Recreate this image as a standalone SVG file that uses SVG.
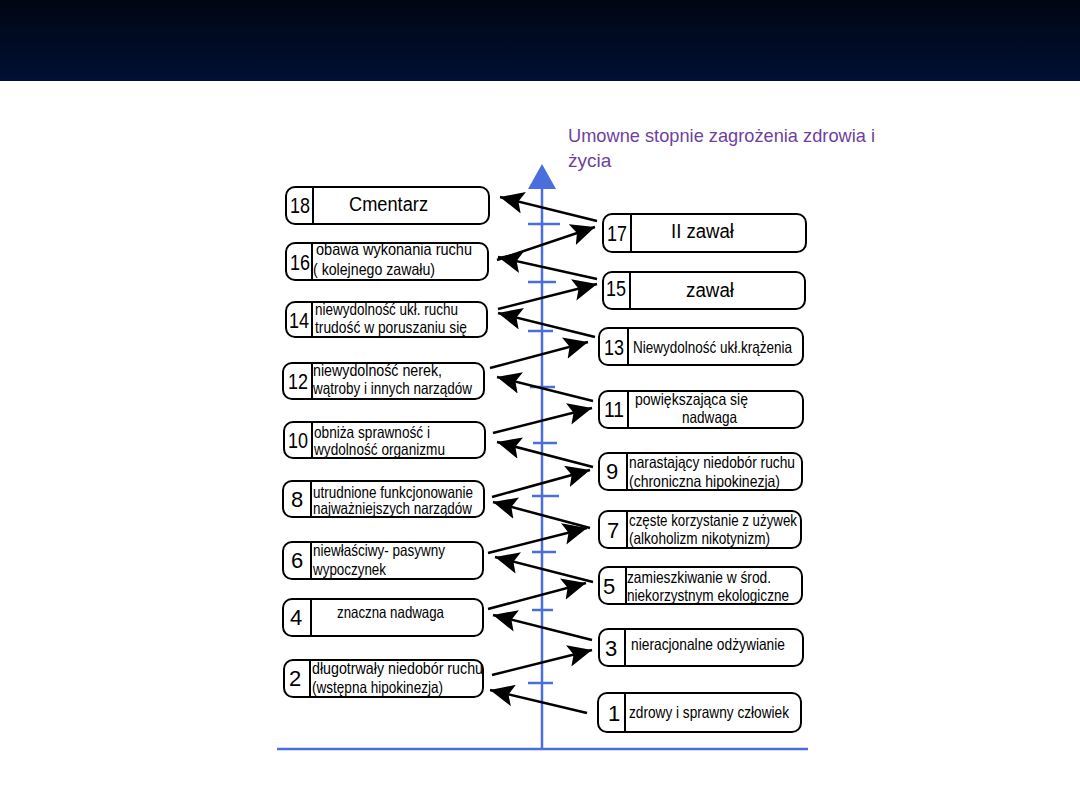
<svg xmlns="http://www.w3.org/2000/svg" width="1080" height="810" viewBox="0 0 1080 810">
<style>
.box{fill:#fff;stroke:#000;stroke-width:2}
.div{stroke:#000;stroke-width:2}
.num{font-family:"Liberation Sans",Arial,sans-serif;font-size:22px;fill:#000;text-anchor:middle}
.t{font-family:"Liberation Sans",Arial,sans-serif;font-size:16.5px;fill:#000}
.big{font-family:"Liberation Sans",Arial,sans-serif;font-size:20px;fill:#000}
.ax{stroke:#4A6FDC;stroke-width:2.5;fill:none}
.tick{stroke:#4A6FDC;stroke-width:2.5}
.ar{stroke:#000;stroke-width:2.5;fill:none;marker-end:url(#ah)}
.title{font-family:"Liberation Sans",Arial,sans-serif;font-size:19px;fill:#6E3F9E}
</style>
<defs>
<linearGradient id="hdr" x1="0" y1="0" x2="0" y2="1">
<stop offset="0" stop-color="#000612"/>
<stop offset="1" stop-color="#001034"/>
</linearGradient>
<marker id="ah" markerUnits="userSpaceOnUse" markerWidth="26" markerHeight="22" refX="24" refY="11" orient="auto">
<path d="M0,0 L24,11 L0,22 L5,11 z" fill="#000"/>
</marker>
</defs>
<rect x="0" y="0" width="1080" height="810" fill="#fff"/>
<rect x="0" y="0" width="1080" height="81" fill="url(#hdr)"/>

<g id="title">
<text class="title" x="568" y="142" textLength="307" lengthAdjust="spacingAndGlyphs">Umowne stopnie zagrożenia zdrowia i</text>
<text class="title" x="568" y="167">życia</text>
</g>

<g id="axis">
<line class="ax" x1="542" y1="185" x2="542" y2="749"/>
<path d="M542,164 L556,189 L528,189 z" fill="#4A6FDC"/>
<line class="ax" x1="277" y1="749" x2="808" y2="749"/>
<line class="tick" x1="528" y1="224" x2="560" y2="224"/>
<line class="tick" x1="528" y1="282" x2="556" y2="282"/>
<line class="tick" x1="528" y1="331" x2="553" y2="331"/>
<line class="tick" x1="530" y1="387" x2="555" y2="387"/>
<line class="tick" x1="533" y1="443" x2="557" y2="443"/>
<line class="tick" x1="532" y1="496" x2="559" y2="496"/>
<line class="tick" x1="532" y1="552" x2="556" y2="552"/>
<line class="tick" x1="532" y1="610" x2="553" y2="610"/>
<line class="tick" x1="528" y1="683" x2="553" y2="683"/>
</g>

<g id="connectors">
<line class="ar" x1="597" y1="221" x2="500" y2="197"/>
<line class="ar" x1="497" y1="260" x2="595" y2="227"/>
<line class="ar" x1="597" y1="279" x2="498" y2="257"/>
<line class="ar" x1="498" y1="309" x2="597" y2="284"/>
<line class="ar" x1="595" y1="337" x2="498" y2="313"/>
<line class="ar" x1="490" y1="368" x2="588" y2="342"/>
<line class="ar" x1="593" y1="401" x2="497" y2="377"/>
<line class="ar" x1="493" y1="433" x2="592" y2="408"/>
<line class="ar" x1="593" y1="467" x2="497" y2="442"/>
<line class="ar" x1="492" y1="497" x2="590" y2="470"/>
<line class="ar" x1="590" y1="528" x2="493" y2="502"/>
<line class="ar" x1="488" y1="553" x2="587" y2="528"/>
<line class="ar" x1="593" y1="582" x2="495" y2="557"/>
<line class="ar" x1="488" y1="609" x2="586" y2="583"/>
<line class="ar" x1="592" y1="640" x2="493" y2="615"/>
<line class="ar" x1="492" y1="675" x2="592" y2="650"/>
<line class="ar" x1="587" y1="713" x2="490" y2="690"/>
</g>

<g id="n18">
<rect class="box" x="286" y="187" width="203" height="37" rx="9"/>
<line class="div" x1="313" y1="187" x2="313" y2="224"/>
<text class="num" x="300" y="213" textLength="20" lengthAdjust="spacingAndGlyphs">18</text>
<text class="big" x="349" y="211" textLength="79" lengthAdjust="spacingAndGlyphs">Cmentarz</text>
</g>
<g id="n16">
<rect class="box" x="286" y="243" width="202" height="37" rx="9"/>
<line class="div" x1="312" y1="243" x2="312" y2="280"/>
<text class="num" x="300" y="270" textLength="20" lengthAdjust="spacingAndGlyphs">16</text>
<text class="t" x="316" y="255" textLength="156" lengthAdjust="spacingAndGlyphs">obawa wykonania ruchu</text>
<text class="t" x="313" y="275" textLength="122" lengthAdjust="spacingAndGlyphs">( kolejnego zawału)</text>
</g>
<g id="n14">
<rect class="box" x="286" y="302" width="201" height="35" rx="9"/>
<line class="div" x1="312" y1="302" x2="312" y2="337"/>
<text class="num" x="299" y="328" textLength="20" lengthAdjust="spacingAndGlyphs">14</text>
<text class="t" x="315" y="315" textLength="143" lengthAdjust="spacingAndGlyphs">niewydolność ukł. ruchu</text>
<text class="t" x="315" y="333" textLength="152" lengthAdjust="spacingAndGlyphs">trudość w poruszaniu się</text>
</g>
<g id="n12">
<rect class="box" x="283" y="363" width="201" height="36" rx="9"/>
<line class="div" x1="312" y1="363" x2="312" y2="399"/>
<text class="num" x="298" y="389" textLength="20" lengthAdjust="spacingAndGlyphs">12</text>
<text class="t" x="313" y="376" textLength="129" lengthAdjust="spacingAndGlyphs">niewydolność nerek,</text>
<text class="t" x="313" y="394" textLength="159" lengthAdjust="spacingAndGlyphs">wątroby i innych narządów</text>
</g>
<g id="n10">
<rect class="box" x="284" y="422" width="201" height="36" rx="9"/>
<line class="div" x1="312" y1="422" x2="312" y2="458"/>
<text class="num" x="298" y="448" textLength="20" lengthAdjust="spacingAndGlyphs">10</text>
<text class="t" x="314" y="438" textLength="116" lengthAdjust="spacingAndGlyphs">obniża sprawność i</text>
<text class="t" x="314" y="455" textLength="131" lengthAdjust="spacingAndGlyphs">wydolność organizmu</text>
</g>
<g id="n8">
<rect class="box" x="283" y="481" width="201" height="36" rx="9"/>
<line class="div" x1="311" y1="481" x2="311" y2="517"/>
<text class="num" x="297" y="507">8</text>
<text class="t" x="313" y="498" textLength="160" lengthAdjust="spacingAndGlyphs">utrudnione funkcjonowanie</text>
<text class="t" x="313" y="514" textLength="159" lengthAdjust="spacingAndGlyphs">najważniejszych narządów</text>
</g>
<g id="n6">
<rect class="box" x="283" y="542" width="200" height="37" rx="9"/>
<line class="div" x1="311" y1="542" x2="311" y2="579"/>
<text class="num" x="297" y="568">6</text>
<text class="t" x="313" y="556" textLength="132" lengthAdjust="spacingAndGlyphs">niewłaściwy- pasywny</text>
<text class="t" x="313" y="575" textLength="73" lengthAdjust="spacingAndGlyphs">wypoczynek</text>
</g>
<g id="n4">
<rect class="box" x="283" y="599" width="200" height="37" rx="9"/>
<line class="div" x1="311" y1="599" x2="311" y2="636"/>
<text class="num" x="296" y="625">4</text>
<text class="t" x="337" y="618" textLength="107" lengthAdjust="spacingAndGlyphs">znaczna nadwaga</text>
</g>
<g id="n2">
<rect class="box" x="284" y="660" width="199" height="37" rx="9"/>
<line class="div" x1="310" y1="660" x2="310" y2="697"/>
<text class="num" x="295" y="686">2</text>
<text class="t" x="312" y="674" textLength="171" lengthAdjust="spacingAndGlyphs">długotrwały niedobór ruchu</text>
<text class="t" x="312" y="693" textLength="131" lengthAdjust="spacingAndGlyphs">(wstępna hipokinezja)</text>
</g>

<g id="n17">
<rect class="box" x="603" y="214" width="203" height="38" rx="9"/>
<line class="div" x1="631" y1="214" x2="631" y2="252"/>
<text class="num" x="617" y="241" textLength="20" lengthAdjust="spacingAndGlyphs">17</text>
<text class="big" x="671" y="238" textLength="63" lengthAdjust="spacingAndGlyphs">II zawał</text>
</g>
<g id="n15">
<rect class="box" x="603" y="272" width="202" height="37" rx="9"/>
<line class="div" x1="630" y1="272" x2="630" y2="309"/>
<text class="num" x="616" y="296" textLength="20" lengthAdjust="spacingAndGlyphs">15</text>
<text class="big" x="686" y="297" textLength="48" lengthAdjust="spacingAndGlyphs">zawał</text>
</g>
<g id="n13">
<rect class="box" x="599" y="328" width="204" height="37" rx="9"/>
<line class="div" x1="628" y1="328" x2="628" y2="365"/>
<text class="num" x="614" y="355" textLength="20" lengthAdjust="spacingAndGlyphs">13</text>
<text class="t" x="633" y="353" textLength="159" lengthAdjust="spacingAndGlyphs">Niewydolność ukł.krążenia</text>
</g>
<g id="n11">
<rect class="box" x="599" y="391" width="204" height="37" rx="9"/>
<line class="div" x1="628" y1="391" x2="628" y2="428"/>
<text class="num" x="614" y="417" textLength="20" lengthAdjust="spacingAndGlyphs">11</text>
<text class="t" x="635" y="405" textLength="113" lengthAdjust="spacingAndGlyphs">powiększająca się</text>
<text class="t" x="682" y="423" textLength="55" lengthAdjust="spacingAndGlyphs">nadwaga</text>
</g>
<g id="n9">
<rect class="box" x="599" y="453" width="203" height="37" rx="9"/>
<line class="div" x1="627" y1="453" x2="627" y2="490"/>
<text class="num" x="612" y="479">9</text>
<text class="t" x="629" y="468" textLength="166" lengthAdjust="spacingAndGlyphs">narastający niedobór ruchu</text>
<text class="t" x="629" y="487" textLength="151" lengthAdjust="spacingAndGlyphs">(chroniczna  hipokinezja)</text>
</g>
<g id="n7">
<rect class="box" x="599" y="511" width="202" height="37" rx="9"/>
<line class="div" x1="627" y1="511" x2="627" y2="548"/>
<text class="num" x="613" y="538">7</text>
<text class="t" x="629" y="526" textLength="168" lengthAdjust="spacingAndGlyphs">częste korzystanie z używek</text>
<text class="t" x="629" y="544" textLength="141" lengthAdjust="spacingAndGlyphs">(alkoholizm nikotynizm)</text>
</g>
<g id="n5">
<rect class="box" x="599" y="567" width="203" height="37" rx="9"/>
<line class="div" x1="626" y1="567" x2="626" y2="604"/>
<text class="num" x="609" y="594">5</text>
<text class="t" x="627" y="583" textLength="144" lengthAdjust="spacingAndGlyphs">zamieszkiwanie w środ.</text>
<text class="t" x="627" y="601" textLength="162" lengthAdjust="spacingAndGlyphs">niekorzystnym ekologiczne</text>
</g>
<g id="n3">
<rect class="box" x="599" y="629" width="204" height="37" rx="9"/>
<line class="div" x1="625" y1="629" x2="625" y2="666"/>
<text class="num" x="611" y="656">3</text>
<text class="t" x="631" y="650" textLength="154" lengthAdjust="spacingAndGlyphs">nieracjonalne odżywianie</text>
</g>
<g id="n1">
<rect class="box" x="598" y="693" width="203" height="39" rx="9"/>
<line class="div" x1="625" y1="693" x2="625" y2="732"/>
<text class="num" x="614" y="721">1</text>
<text class="t" x="629" y="718" textLength="160" lengthAdjust="spacingAndGlyphs">zdrowy i sprawny człowiek</text>
</g>
</svg>
